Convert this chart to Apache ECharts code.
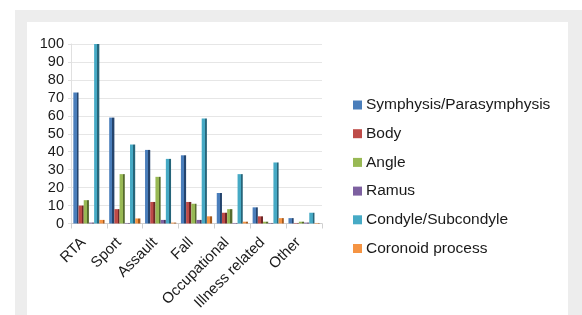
<!DOCTYPE html>
<html>
<head>
<meta charset="utf-8">
<script src="https://cdn.jsdelivr.net/npm/echarts@6/dist/echarts.min.js"></script>
<style>
  html, body { margin: 0; padding: 0; background: #fff; }
  #frame { position: absolute; left: 15px; top: 10px; width: 567px; height: 305px; background: #ededed; }
  #panel { position: absolute; left: 27px; top: 22px; width: 541px; height: 293px; background: #fff; }
  #chart { position: absolute; left: 0; top: 0; width: 582px; height: 315px; }
</style>
</head>
<body>
<div id="frame"></div>
<div id="panel"></div>
<div id="chart"></div>
<script>
const categories = ['RTA', 'Sport', 'Assault', 'Fall', 'Occupational', 'Illness related', 'Other'];
const seriesNames = ['Symphysis/Parasymphysis', 'Body', 'Angle', 'Ramus', 'Condyle/Subcondyle', 'Coronoid process'];

const symphysis = [73, 59, 41, 38, 17, 9, 3];
const body = [10, 8, 12, 12, 6, 4, 0.3];
const angle = [13, 27.5, 26, 11, 8, 1, 1];
const ramus = [0.5, 0.3, 2, 2, 0.3, 0.3, 0.5];
const condyle = [100, 44, 36, 58.5, 27.5, 34, 6];
const coronoid = [2, 2.8, 0.5, 4, 1, 3, 0.3];

const colors = ['#4a7ebb', '#be4b48', '#98b954', '#7d60a0', '#46aac5', '#f59443'];
const darks = ['#24446d', '#6f2726', '#566b2e', '#45345b', '#26657a', '#a75a1c'];

const values = [symphysis, body, angle, ramus, condyle, coronoid];

const chart = echarts.init(document.getElementById('chart'));

const series = seriesNames.map((name, i) => ({
    name: name,
    type: 'bar',
    data: values[i],
    barWidth: 5.2,
    barGap: '0%',
    itemStyle: {
        color: new echarts.graphic.LinearGradient(0, 0, 1, 0, [
            { offset: 0, color: colors[i] },
            { offset: 0.62, color: colors[i] },
            { offset: 0.63, color: darks[i] },
            { offset: 1, color: darks[i] }
        ])
    }
}));

chart.setOption({
    animation: false,
    textStyle: { fontFamily: 'Liberation Sans, Arial, sans-serif' },
    grid: { left: 71, top: 44, right: 260, bottom: 91.5, containLabel: false },
    legend: {
        orient: 'vertical',
        left: 353,
        top: 97,
        padding: 0,
        icon: 'rect',
        itemWidth: 9,
        itemHeight: 9,
        itemGap: 12.7,
        textStyle: { fontSize: 15.5, color: '#1a1a1a', padding: [0, 0, 0, -1] },
        data: seriesNames.map((n, i) => ({ name: n, itemStyle: { color: colors[i] } }))
    },
    xAxis: {
        type: 'category',
        data: categories,
        axisLine: { show: true, lineStyle: { color: '#d0d0d0' } },
        axisTick: { show: true, length: 5, lineStyle: { color: '#d0d0d0' } },
        axisLabel: { interval: 0, rotate: 45, fontSize: 15, color: '#1a1a1a', margin: 11, padding: [0, 8, 0, 0] }
    },
    yAxis: {
        type: 'value',
        min: 0,
        max: 100,
        interval: 10,
        axisLine: { show: true, lineStyle: { color: '#e0e0e0' } },
        axisTick: { show: true, length: 3, lineStyle: { color: '#e0e0e0' } },
        splitLine: { show: true, lineStyle: { color: '#e6e6e6' } },
        axisLabel: { fontSize: 14.5, color: '#1a1a1a', margin: 7 }
    },
    series: series
});
</script>
</body>
</html>
